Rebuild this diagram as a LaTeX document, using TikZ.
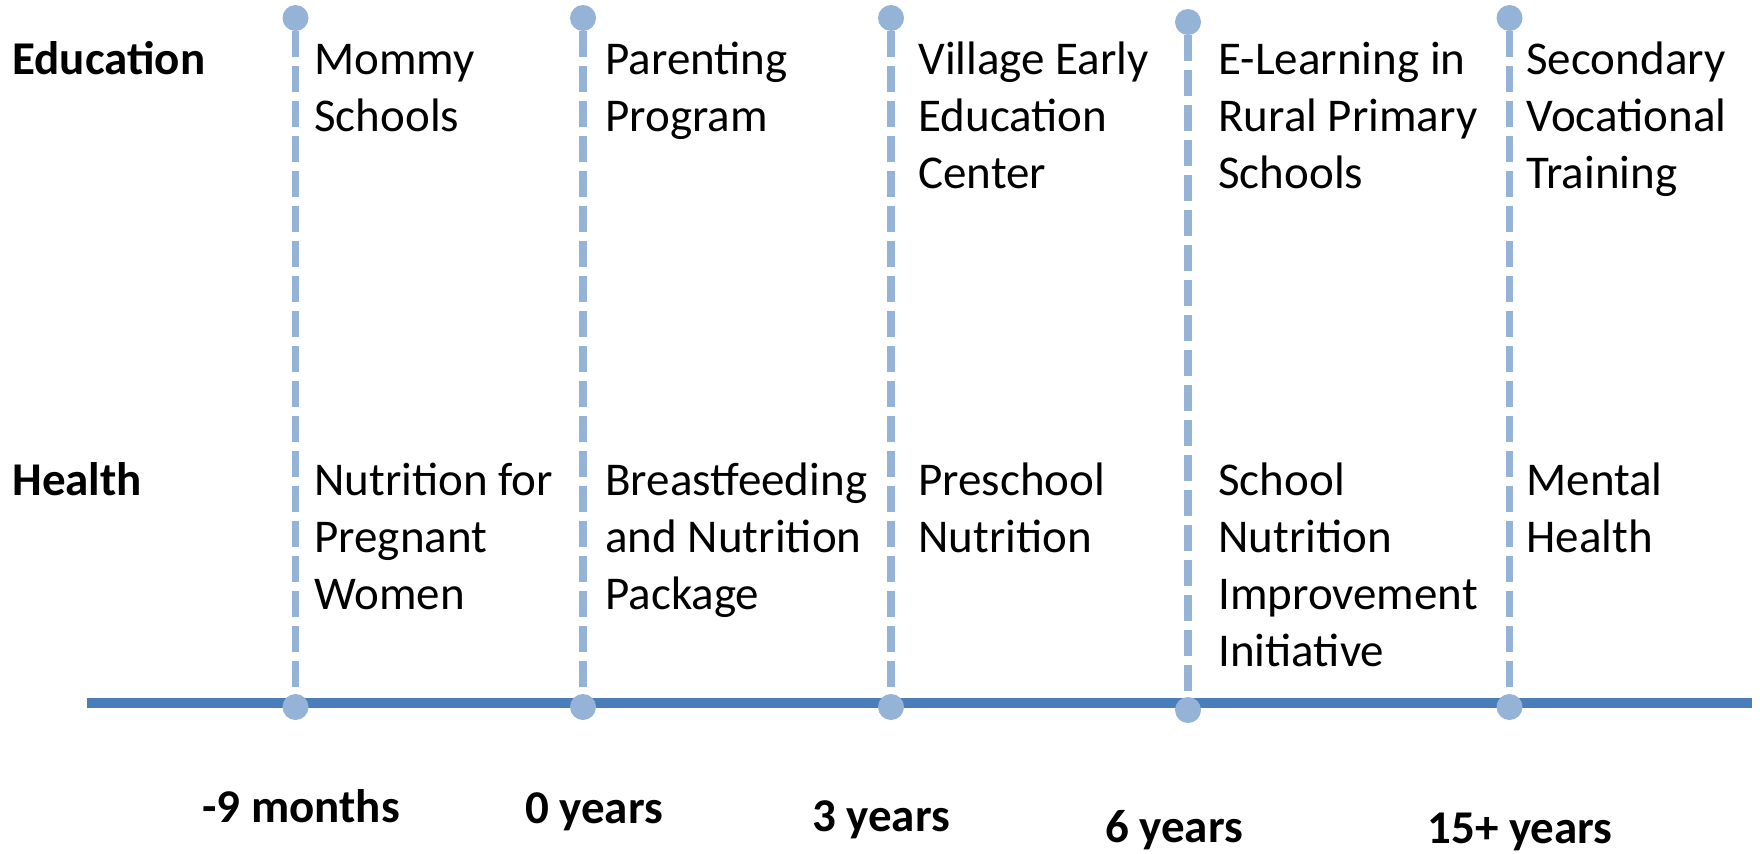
\documentclass[tikz,border=0pt]{standalone}
\usepackage{fontspec}
\setmainfont{Carlito}
\usetikzlibrary{positioning}

\definecolor{axisblue}{HTML}{4A7EBB}
\definecolor{tickblue}{HTML}{95B3D7}

\tikzset{
  tickdot/.style={circle, fill=tickblue, inner sep=0pt, minimum size=13pt},
  stemline/.style={tickblue, line width=3.75pt, dash pattern=on 13pt off 4.5pt},
  timeaxis/.style={axisblue, line width=5.25pt},
  prog/.style={anchor=base west, align=left, inner sep=0pt, font=\fontsize{23.5}{28.5}\selectfont},
  rowlabel/.style={prog, font=\fontsize{23.5}{28.5}\selectfont\bfseries},
  agelabel/.style={anchor=base, inner sep=0pt, font=\fontsize{23.5}{28.5}\selectfont\bfseries},
}

\begin{document}
\begin{tikzpicture}[x=0.5pt, y=-0.5pt]
    \useasboundingbox (0,0) rectangle (1760,853);
    \coordinate (left)  at (87,703);
    \coordinate (right) at (1752,703);
    \draw[timeaxis] (left) -- (right);
    \node[tickdot] (top1) at (295.5,18) {};
    \node[tickdot] (bot1) at (295.5,707) {};
    \node[tickdot] (top2) at (583,18) {};
    \node[tickdot] (bot2) at (583,707) {};
    \node[tickdot] (top3) at (891,18) {};
    \node[tickdot] (bot3) at (891,707) {};
    \node[tickdot] (top4) at (1188,22) {};
    \node[tickdot] (bot4) at (1188,710) {};
    \node[tickdot] (top5) at (1509.5,18) {};
    \node[tickdot] (bot5) at (1509.5,707) {};
    \draw[stemline] (top1) -- (bot1);
    \draw[stemline] (top2) -- (bot2);
    \draw[stemline] (top3) -- (bot3);
    \draw[stemline] (top4) -- (bot4);
    \draw[stemline] (top5) -- (bot5);
    % rows
    \node[rowlabel] (edu)    at (12,74)  {Education};
    \node[rowlabel] (health) at (12,495) {Health};
    % education programs (anchored on last line)
    \node[prog] (mommy)     at (314,131)  {Mommy\\Schools};
    \node[prog] (parenting) at (605,131)  {Parenting\\Program};
    \node[prog] (village)   at (918,188)  {Village Early\\Education\\Center};
    \node[prog] (elearn)    at (1218,188) {E-Learning in\\Rural Primary\\Schools};
    \node[prog] (vocation)  at (1526,188) {Secondary\\Vocational\\Training};
    % health programs
    \node[prog] (pregnant)  at (314,609)  {Nutrition for\\Pregnant\\Women};
    \node[prog] (breast)    at (605,609)  {Breastfeeding\\and Nutrition\\Package};
    \node[prog] (preschool) at (918,552)  {Preschool\\Nutrition};
    \node[prog] (school)    at (1218,666) {School\\Nutrition\\Improvement\\Initiative};
    \node[prog] (mental)    at (1526,552) {Mental\\Health};
    % ages
    \node[agelabel] (age1) at (301,822)  {-9 months};
    \node[agelabel] (age2) at (594,823)  {0 years};
    \node[agelabel] (age3) at (881,831)  {3 years};
    \node[agelabel] (age4) at (1174,842) {6 years};
    \node[agelabel] (age5) at (1520,843) {15+ years};
\end{tikzpicture}
\end{document}
